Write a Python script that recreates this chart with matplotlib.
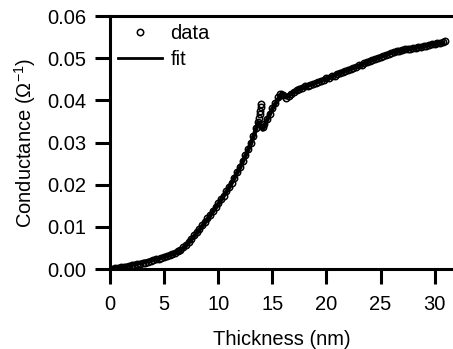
import numpy as np
import matplotlib
matplotlib.use('Agg')
import matplotlib.pyplot as plt

plt.rcParams['font.family'] = ['Liberation Sans', 'DejaVu Sans']
plt.rcParams['mathtext.fontset'] = 'custom'
plt.rcParams['mathtext.rm'] = 'Liberation Sans'
plt.rcParams['mathtext.it'] = 'Liberation Sans:italic'

# measured data (thickness in nm, conductance in 1/Ohm)
thickness = [
    0.0, 0.25, 0.5, 0.75, 1.0, 1.25, 1.5, 1.75, 2.0, 2.25, 2.5, 2.75,
    3.0, 3.25, 3.5, 3.75, 4.0, 4.25, 4.5, 4.75, 5.0, 5.25, 5.5, 5.75,
    6.0, 6.25, 6.5, 6.75, 7.0, 7.25, 7.5, 7.75, 8.0, 8.25, 8.5, 8.75,
    9.0, 9.25, 9.5, 9.75, 10.0, 10.25, 10.5, 10.75, 11.0, 11.25, 11.5, 11.75,
    12.0, 12.25, 12.5, 12.75, 13.0, 13.25, 13.5, 13.65, 13.75, 13.82, 13.88, 13.93,
    13.97, 14.1, 14.25, 14.5, 14.75,
    15.0, 15.25, 15.5, 15.75, 16.0, 16.25, 16.5, 16.75, 17.0, 17.25, 17.5, 17.75,
    18.0, 18.25, 18.5, 18.75, 19.0, 19.25, 19.5, 19.75, 20.0, 20.25, 20.5, 20.75,
    21.0, 21.25, 21.5, 21.75, 22.0, 22.25, 22.5, 22.75, 23.0, 23.25, 23.5, 23.75,
    24.0, 24.25, 24.5, 24.75, 25.0, 25.25, 25.5, 25.75, 26.0, 26.25, 26.5, 26.75,
    27.0, 27.25, 27.5, 27.75, 28.0, 28.25, 28.5, 28.75, 29.0, 29.25, 29.5, 29.75,
    30.0, 30.25, 30.5, 30.75, 31.0]
conductance = [
    0.0000, 0.0001, 0.0002, 0.0003, 0.0004, 0.0005, 0.0006, 0.0007, 0.0009, 0.0010, 0.0011, 0.0012,
    0.0014, 0.0015, 0.0017, 0.0019, 0.0021, 0.0023, 0.0025, 0.0027, 0.0029, 0.0031, 0.0033, 0.0035,
    0.0038, 0.0042, 0.0046, 0.0052, 0.0058, 0.0065, 0.0072, 0.0080, 0.0088, 0.0096, 0.0104, 0.0112,
    0.0120, 0.0129, 0.0138, 0.0147, 0.0156, 0.0165, 0.0174, 0.0184, 0.0194, 0.0205, 0.0217, 0.0230,
    0.0243, 0.0256, 0.0270, 0.0284, 0.0299, 0.0316, 0.0335, 0.0348, 0.0358, 0.0367, 0.0376, 0.0384,
    0.0391, 0.0338, 0.0344, 0.0355, 0.0368,
    0.0382, 0.0395, 0.0407, 0.0416, 0.0412, 0.0406, 0.0410, 0.0416, 0.0420, 0.0424, 0.0427, 0.0430,
    0.0433, 0.0435, 0.0437, 0.0440, 0.0442, 0.0444, 0.0446, 0.0449, 0.0452, 0.0454, 0.0457, 0.0459,
    0.0462, 0.0464, 0.0467, 0.0469, 0.0472, 0.0475, 0.0477, 0.0480, 0.0483, 0.0485, 0.0488, 0.0490,
    0.0493, 0.0495, 0.0498, 0.0500, 0.0503, 0.0505, 0.0508, 0.0510, 0.0513, 0.0515, 0.0517, 0.0518,
    0.0520, 0.0521, 0.0522, 0.0523, 0.0524, 0.0525, 0.0526, 0.0527, 0.0529, 0.0530, 0.0531, 0.0533,
    0.0534, 0.0535, 0.0537, 0.0538, 0.0540]

# fitted curve
fit_thickness = [0, 1, 2, 3, 4, 5, 6, 6.5, 7, 8, 9, 10, 11, 12, 13, 13.4, 13.7, 14.1,
                 15, 15.9, 16.3, 17, 18, 19, 20, 22, 24, 26, 28, 30, 30.8]
fit_conductance = [0.0000, 0.0005, 0.0010, 0.0016, 0.0022, 0.0029, 0.0037, 0.0044, 0.0055,
                   0.0085, 0.0118, 0.0154, 0.0193, 0.0240, 0.0296, 0.0325, 0.0348, 0.0331,
                   0.0380, 0.0418, 0.0407, 0.0420, 0.0433, 0.0442, 0.0452, 0.0472, 0.0493,
                   0.0513, 0.0524, 0.0534, 0.0537]

fig = plt.figure(figsize=(4.53, 3.49), dpi=100)
ax = fig.add_axes([0.243, 0.229, 0.757, 0.725])

ax.plot(fit_thickness, fit_conductance, color='black', lw=3.2, label='fit', zorder=2)
ax.plot(thickness, conductance, 'o', ms=4.6, mfc='none', mec='black', mew=1.1,
        label='data', zorder=3)

ax.set_xlim(0, 31.7)
ax.set_ylim(0, 0.06)
ax.set_xticks([0, 5, 10, 15, 20, 25, 30])
ax.set_yticks([0.00, 0.01, 0.02, 0.03, 0.04, 0.05, 0.06])
ax.set_yticklabels(['0.00', '0.01', '0.02', '0.03', '0.04', '0.05', '0.06'])

ax.spines['right'].set_visible(False)
for s in ['left', 'bottom', 'top']:
    ax.spines[s].set_linewidth(2.2)
ax.tick_params(axis='both', direction='out', length=11, width=2.2, labelsize=14.5, pad=6)
ax.tick_params(axis='x', pad=8)

ax.set_xlabel('Thickness (nm)', fontsize=14.5, labelpad=11)
ax.set_ylabel(r'Conductance ($\Omega^{-1}$)', fontsize=14.5, labelpad=7)

handles, labels = ax.get_legend_handles_labels()
leg = ax.legend(handles[::-1], labels[::-1], loc='upper left', frameon=False, fontsize=14.5,
                handlelength=2.2, handletextpad=0.4, borderaxespad=0.0, labelspacing=0.35,
                bbox_to_anchor=(0.0, 1.0))
leg.get_lines()[1].set_linewidth(2.0)

fig.savefig('out.png', dpi=100)
